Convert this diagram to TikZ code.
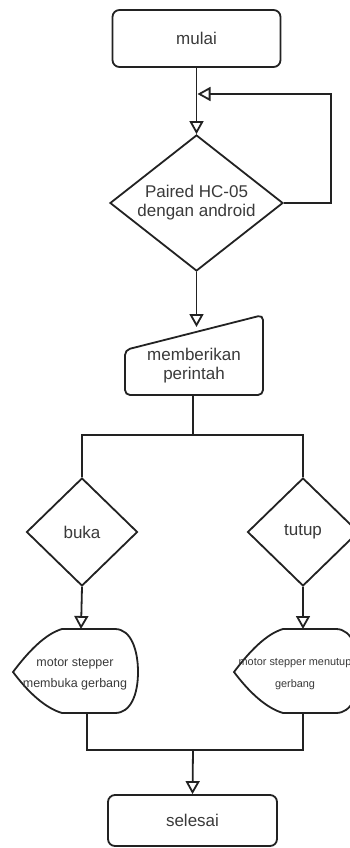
\documentclass[tikz,border=0pt]{standalone}
\usepackage{fontspec}
\setmainfont{Liberation Sans}
\usetikzlibrary{arrows.meta,shapes.geometric}
\definecolor{ln}{HTML}{222222}
\definecolor{tx}{HTML}{3A3A3A}
\begin{document}
\begin{tikzpicture}[x=1pt,y=-1pt,
  shp/.style={draw=ln, line width=1.8pt, fill=white},
  conn/.style={draw=ln, line width=1.8pt},
  arr/.style={conn, -{Triangle[open,length=13pt,width=14pt,fill=white]}},
  lbl/.style={text=tx, font=\fontsize{17}{19}\selectfont, align=center, inner sep=0pt},
  small/.style={text=tx, font=\fontsize{12.5}{21.5}\selectfont, align=center, inner sep=0pt},
  term/.style={shp, rounded corners=7pt, lbl, minimum width=168pt, minimum height=54pt},
  dec/.style={shp, diamond, lbl, aspect=1.27}]
\useasboundingbox (0,0) rectangle (350,848);

% start
\node[term, minimum height=57pt] (mulai) at (196.5,38.5) {mulai};

% pairing decision
\node[dec, minimum width=173pt, minimum height=136pt] (pair) at (196.5,203) {Paired HC-05\\dengan android};
\coordinate (loopin) at (197.5,94);
\draw[arr] (mulai.south) -- (pair.north);
\draw[arr] (pair.east) -- ++(47,0) |- (loopin);

% manual input
\draw[shp, rounded corners=5pt] (125,350) -- (263,315) -- (263,395) -- (125,395) -- cycle;
\node[lbl] (perintah) at (194,366) {memberikan\\perintah};
\coordinate (inTop) at (196.5,327);
\coordinate (inBot) at (193,395);
\draw[arr] (pair.south) -- (inTop);

% branches
\coordinate (split) at (193,435);
\node[dec, aspect=1.03, minimum width=111pt, minimum height=108pt] (buka) at (82,532) {buka};
\node[dec, aspect=1.03, minimum width=111pt, minimum height=108pt] (tutup) at (303,532) {tutup};
\draw[conn] (inBot) -- (split);
\draw[conn] (buka.north) -- (buka.north |- split) -- (tutup.north |- split) -- (tutup.north);

% display shapes
\draw[shp] (13,672) .. controls (28,652) and (45,634) .. (62,629) -- (115,629)
  .. controls (131,629) and (138,650) .. (138,672)
  .. controls (138,694) and (131,713) .. (115,713) -- (62,713)
  .. controls (45,708) and (28,692) .. (13,672) -- cycle;
\draw[shp] (234,672) .. controls (249,652) and (266,634) .. (283,629) -- (336,629)
  .. controls (352,629) and (359,650) .. (359,672)
  .. controls (359,694) and (352,713) .. (336,713) -- (283,713)
  .. controls (266,708) and (249,692) .. (234,672) -- cycle;
\node[small] (buka txt) at (75,674) {motor stepper\\membuka gerbang};
\node[small, font=\fontsize{10.9}{21.5}\selectfont] (tutup txt) at (295,674) {motor stepper menutup\\gerbang};
\coordinate (dLt) at (81,629);
\coordinate (dLb) at (87,713);
\coordinate (dRt) at (303,629);
\coordinate (dRb) at (303,713);
\draw[arr] (buka.south) -- (dLt);
\draw[arr] (tutup.south) -- (dRt);

% join and end
\coordinate (join) at (193,750);
\node[term, minimum width=169pt, minimum height=51pt] (selesai) at (192.5,820.5) {selesai};
\draw[conn] (dLb) -- (dLb |- join) -- (dRb |- join) -- (dRb);
\draw[arr] (join) -- (selesai.north);
\end{tikzpicture}
\end{document}
